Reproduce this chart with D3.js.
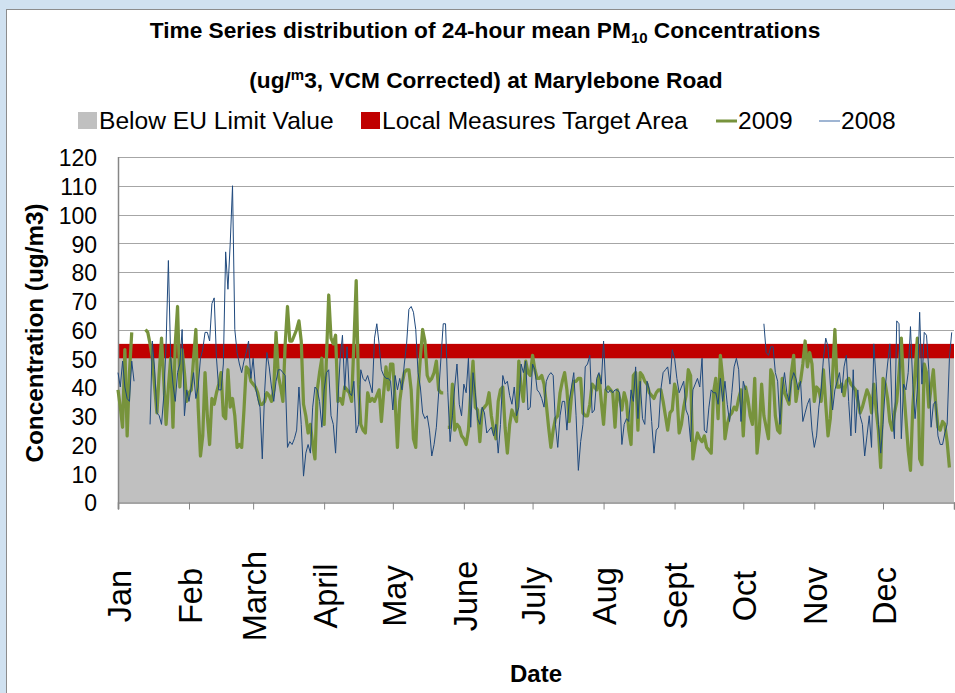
<!DOCTYPE html>
<html>
<head>
<meta charset="utf-8">
<script src="https://cdn.jsdelivr.net/npm/d3@7"></script>
<style>
  body { margin: 0; background: #d0e1f0; }
  svg { display: block; font-family: "Liberation Sans", Arial, sans-serif; }
</style>
</head>
<body>
<script>
'use strict';

// month labels and the day of year each month starts on
const months = ["Jan", "Feb", "March", "April", "May", "June", "July", "Aug", "Sept", "Oct", "Nov", "Dec"]
const monthStarts = [0, 31, 59, 90, 120, 151, 181, 212, 243, 273, 304, 334, 365]

const yTicks = [0, 10, 20, 30, 40, 50, 60, 70, 80, 90, 100, 110, 120]

const euLimit = 50
const targetTop = 55

// daily 24-hour mean PM10 (ug/m3), null = no data
const pm2009 = [
  39,33,26,53,23,45,59,null,null,null,
  null,null,60,59,55,50,40,31,45,57,
  42,27,40,50,26,55,68,40,53,45,
  35,38,39,50,60,33,16,23,45,30,
  20,36,34,38,41,45,30,29,46,33,
  36,30,19,20,19,32,47,46,42,41,
  40,38,34,34,35,38,37,35,39,59,
  44,40,35,55,68,56,56,58,60,63,
  56,34,30,24,27,20,15,39,45,50,
  27,50,72,57,55,58,35,36,34,40,
  39,38,35,55,77,41,27,25,24,38,
  35,36,35,37,39,28,38,47,39,48,
  48,35,19,35,41,45,46,46,39,22,
  19,39,50,60,56,44,42,43,45,49,
  39,38,38,null,26,26,41,25,27,26,
  23,22,20,25,38,49,33,32,21,32,
  33,34,38,30,25,22,35,39,40,26,
  17,27,32,30,28,49,40,35,49,45,
  44,51,46,43,43,44,41,34,26,19,
  25,29,30,38,42,45,39,28,37,42,
  42,43,43,31,30,30,34,41,40,39,
  44,35,27,39,40,39,38,26,39,36,
  32,38,35,25,20,44,45,25,45,44,
  42,41,38,37,36,38,39,39,35,30,
  25,31,32,41,38,24,27,33,37,46,
  44,15,20,24,22,21,23,19,18,17,
  38,43,29,51,43,22,27,30,31,33,
  32,36,39,23,40,36,30,27,43,17,
  25,41,30,26,22,46,44,30,25,24,
  43,38,36,34,45,51,35,40,42,48,
  56,47,52,48,35,40,39,35,46,34,
  23,29,44,60,40,40,41,37,42,43,
  41,40,39,35,31,33,36,39,37,31,
  41,32,25,12,43,41,36,28,25,31,
  35,45,57,40,29,18,11,33,45,57,
  15,13,48,45,33,40,46,34,26,25,
  28,27,21,12,null
]

const pm2008 = [
  45,40,49,40,36,35,49,42,null,null,
  null,null,null,null,27,56,46,31,30,27,
  37,55,84,50,41,35,45,48,60,30,
  39,35,40,45,36,40,50,53,59,59,
  56,69,71,50,39,39,48,87,74,90,
  110,60,52,48,45,49,52,56,43,50,
  40,36,33,15,38,52,47,40,35,42,
  46,46,45,44,19,21,20,22,25,40,
  27,9,17,20,17,33,40,39,35,26,
  39,45,46,30,27,17,35,50,58,39,
  54,38,37,42,24,27,46,43,42,44,
  41,38,57,62,55,46,44,43,43,42,
  32,44,39,43,39,48,55,67,68,66,
  60,45,40,31,29,30,25,16,20,26,
  38,50,62,62,38,21,30,40,48,34,
  30,41,38,50,26,45,38,29,27,33,
  31,24,25,26,23,27,17,27,44,41,
  42,37,34,40,30,33,48,45,49,32,
  33,48,46,39,38,36,33,42,44,45,
  44,27,19,30,35,35,25,35,40,45,
  30,11,21,27,47,48,51,31,32,43,
  45,41,56,39,38,39,38,39,39,38,
  20,27,29,28,39,35,47,29,42,29,
  27,42,39,28,17,25,26,39,45,46,
  47,41,53,50,43,38,40,42,32,30,
  21,39,41,43,40,50,25,24,33,39,
  38,38,34,43,35,42,34,28,38,47,
  50,46,28,42,39,null,null,null,null,null,
  null,null,62,52,51,54,54,45,42,27,
  39,45,38,35,42,45,43,39,42,28,
  31,34,36,25,19,23,33,39,50,57,
  54,41,32,39,42,45,38,47,51,35,
  23,46,24,39,30,27,16,23,30,19,
  55,42,27,17,27,40,48,55,31,22,
  63,62,22,41,39,45,61,41,29,39,
  66,41,59,58,46,26,34,35,23,20,
  20,24,27,50,59
]

const m = {
  width: 955,
  height: 693,
  left: 118,
  right: 954,
  top: 157,
  bottom: 502
}

const colors = {
  below: "#c0c0c0",
  target: "#c00000",
  y2009: "#77933c",
  y2008: "#1f497d",
  grid: "#a6a6a6",
  axis: "#868686"
}

let svg = d3.select('body')
  .append('svg')
  .attr('width', m.width)
  .attr('height', m.height)

// chart frame
svg.append('rect')
  .attr('x', 0).attr('y', 0)
  .attr('width', m.width).attr('height', m.height)
  .style('fill', '#d0e1f0')
svg.append('rect')
  .attr('x', 6.5).attr('y', 9.5)
  .attr('width', 1000).attr('height', 1000)
  .style('fill', '#ffffff')
  .style('stroke', '#8c8c8c')

let xScale = d3.scaleLinear()
  .domain([0, 365])
  .range([m.left, m.right])

let yScale = d3.scaleLinear()
  .domain([0, 120])
  .range([m.bottom, m.top])

drawGrid()
drawBands()
drawAxes()
drawSeries(pm2009, colors.y2009, 3.25)
drawSeries(pm2008, colors.y2008, 1)
drawTitles()
drawLegend()


function drawGrid() {
  svg.append('g')
    .selectAll('line')
    .data(yTicks.filter((d) => d > 0))
    .enter().append('line')
      .attr('x1', m.left)
      .attr('x2', m.right)
      .attr('y1', (d) => Math.round(yScale(d)) + 0.5)
      .attr('y2', (d) => Math.round(yScale(d)) + 0.5)
      .style('stroke', colors.grid)
      .style('stroke-width', 1)
}

function drawBands() {
  svg.append('rect')
    .attr('x', m.left)
    .attr('y', yScale(euLimit))
    .attr('width', m.right - m.left)
    .attr('height', yScale(0) - yScale(euLimit))
    .style('fill', colors.below)

  svg.append('rect')
    .attr('x', m.left)
    .attr('y', yScale(targetTop))
    .attr('width', m.right - m.left)
    .attr('height', yScale(euLimit) - yScale(targetTop))
    .style('fill', colors.target)
}

function drawAxes() {
  let xAxis = d3.axisBottom(xScale)
    .tickValues(monthStarts)
    .tickSize(7)
    .tickFormat('')
  let gx = svg.append('g')
    .attr('transform', 'translate(0, ' + (m.bottom + 0.5) + ')')
    .call(xAxis)
  gx.select('.domain').style('stroke', colors.axis).style('stroke-width', 1.5)
  gx.selectAll('.tick line').style('stroke', colors.axis)

  svg.append('line')
    .attr('x1', m.left + 0.5).attr('x2', m.left + 0.5)
    .attr('y1', m.top).attr('y2', m.bottom + 7)
    .style('stroke', colors.axis)
    .style('stroke-width', 1.5)

  svg.append('g')
    .selectAll('text')
    .data(yTicks)
    .enter().append('text')
      .attr('x', 97)
      .attr('y', (d) => yScale(d) + 1)
      .attr('dy', '0.36em')
      .style('text-anchor', 'end')
      .style('font-size', '23px')
      .text((d) => d)

  svg.append('g')
    .selectAll('text')
    .data(months)
    .enter().append('text')
      .attr('transform', (d, i) => 'translate(' + (xScale(monthStarts[i]) + 1) + ', 596)rotate(-90)')
      .attr('dy', '0.36em')
      .style('text-anchor', 'middle')
      .style('font-size', '32.5px')
      .text((d) => d)
}

function drawSeries(values, color, width) {
  let line = d3.line()
    .defined((d) => d != null)
    .x((d, i) => xScale(i))
    .y((d) => yScale(d))

  svg.append('path')
    .datum(values)
    .attr('d', line)
    .style('fill', 'none')
    .style('stroke', color)
    .style('stroke-width', width)
    .style('stroke-linejoin', 'round')
}

function drawTitles() {
  let t1 = svg.append('text')
    .attr('x', 485)
    .attr('y', 38)
    .style('text-anchor', 'middle')
    .style('font-size', '22.7px')
    .style('font-weight', 'bold')
  t1.append('tspan').text('Time Series distribution of 24-hour mean PM')
  t1.append('tspan').attr('dy', 5).style('font-size', '15px').text('10')
  t1.append('tspan').attr('dy', -5).text(' Concentrations')

  let t2 = svg.append('text')
    .attr('x', 486)
    .attr('y', 88)
    .style('text-anchor', 'middle')
    .style('font-size', '22.7px')
    .style('font-weight', 'bold')
  t2.append('tspan').text('(ug/')
  t2.append('tspan').attr('dy', -8).style('font-size', '15px').text('m')
  t2.append('tspan').attr('dy', 8).text('3, VCM Corrected) at Marylebone Road')

  svg.append('text')
    .attr('transform', 'translate(34, 333)rotate(-90)')
    .attr('dy', '0.36em')
    .style('text-anchor', 'middle')
    .style('font-size', '24.3px')
    .style('font-weight', 'bold')
    .text('Concentration (ug/m3)')

  svg.append('text')
    .attr('x', (m.left + m.right) / 2)
    .attr('y', 682)
    .style('text-anchor', 'middle')
    .style('font-size', '24px')
    .style('font-weight', 'bold')
    .text('Date')
}

function drawLegend() {
  let items = [
    {label: 'Below EU Limit Value', color: colors.below, type: 'box', x: 78},
    {label: 'Local Measures Target Area', color: colors.target, type: 'box', x: 361},
    {label: '2009', color: colors.y2009, type: 'line', x: 716, w: 3},
    {label: '2008', color: '#7f9cc4', type: 'line', x: 819, w: 1.5}
  ]

  let legend = svg.selectAll('.legend')
    .data(items)
  .enter().append('g')
    .attr('class', 'legend')
    .attr('transform', (d) => 'translate(' + d.x + ', 121)')

  legend.filter((d) => d.type == 'box').append('rect')
    .attr('x', 0)
    .attr('y', -9)
    .attr('width', 19)
    .attr('height', 17)
    .style('fill', (d) => d.color)

  legend.filter((d) => d.type == 'line').append('line')
    .attr('x1', 0).attr('x2', 21)
    .attr('y1', 0).attr('y2', 0)
    .style('stroke', (d) => d.color)
    .style('stroke-width', (d) => d.w)

  legend.append('text')
    .attr('x', (d) => d.type == 'box' ? 21 : 22)
    .attr('y', 7.5)
    .style('font-size', '24.6px')
    .text((d) => d.label)
}
</script>
</body>
</html>
